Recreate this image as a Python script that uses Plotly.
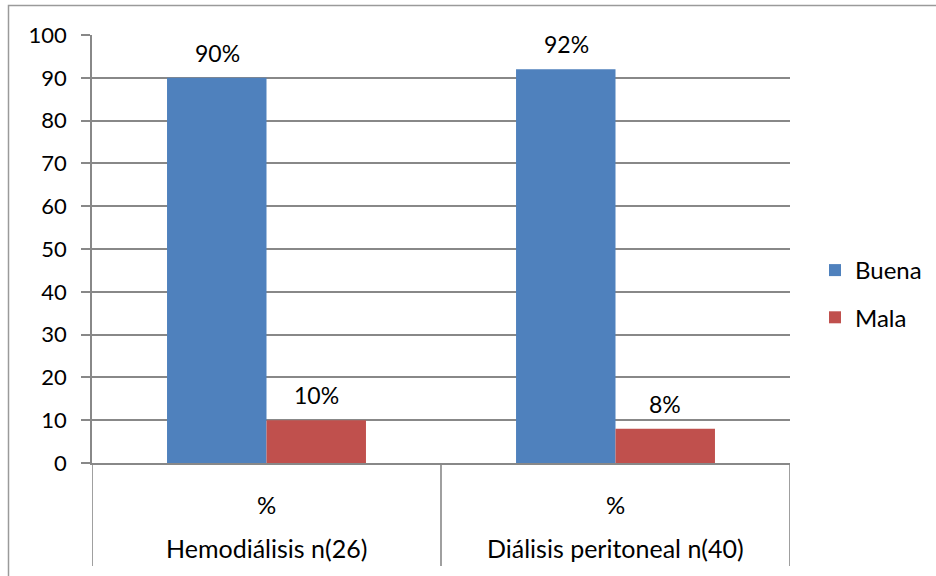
import plotly.graph_objects as go

# Data
groups = ["Hemodiálisis n(26)", "Diálisis peritoneal n(40)"]
inner = ["%", "%"]
series = [("Buena", [90, 92], "#4F81BD"), ("Mala", [10, 8], "#C0504D")]

W, H = 936, 576
ml, mr, mt, mb = 92, 146, 35, 113
FONT = "Lato"
GRID = "#888888"
pw = W - ml - mr
ph = H - mt - mb
bar_px = 99  # width of one bar in pixels, used to centre labels over grouped bars

fig = go.Figure()
for i, (name, vals, color) in enumerate(series):
    fig.add_trace(go.Bar(
        name=name, x=groups, y=vals,
        marker=dict(color=color, line=dict(width=0)),
        legendgroup=name,
    ))
    # value labels above each bar
    off = (i - 0.5) * bar_px
    for g, v in zip(groups, vals):
        fig.add_annotation(
            x=g, y=v, xref="x", yref="y", text=f"{v}%", showarrow=False,
            xshift=off, yshift=25, yanchor="middle",
            font=dict(family=FONT, size=23, color="#000000"),
        )

# group names under the inner "%" labels
for g in groups:
    fig.add_annotation(
        x=g, xref="x", y=-(548 - (H - mb)) / ph, yref="paper", text=g,
        showarrow=False, yanchor="middle",
        font=dict(family=FONT, size=25, color="#000000"),
    )

# category dividers running down through both label rows
for xd in [-0.5, 0.5, 1.5]:
    fig.add_shape(
        type="line", xref="x", yref="paper", x0=xd, x1=xd,
        y0=0, y1=-(566 - (H - mb)) / ph,
        line=dict(color=GRID, width=1.6),
    )

# Outer chart border
fig.add_shape(
    type="rect", xref="paper", yref="paper",
    x0=(8.5 - ml) / pw, x1=(W + 30 - ml) / pw,
    y0=-(H + 30 - (H - mb)) / ph, y1=((H - mb) - 5.5) / ph,
    line=dict(color="#9a9a9a", width=1.5), fillcolor="rgba(0,0,0,0)", layer="below",
)

fig.update_layout(
    width=W, height=H,
    margin=dict(l=ml, r=mr, t=mt, b=mb, autoexpand=False),
    paper_bgcolor="white", plot_bgcolor="white",
    barmode="group", bargap=0.43, bargroupgap=0,
    font=dict(family=FONT, size=23, color="#000000"),
    showlegend=True,
    legend=dict(
        xref="container", yref="container",
        x=815 / W, y=1 - 248 / H, xanchor="left", yanchor="top",
        traceorder="grouped", tracegroupgap=13,
        font=dict(family=FONT, size=24, color="#000000"),
        itemwidth=30, bgcolor="rgba(0,0,0,0)",
    ),
)
fig.update_yaxes(
    range=[0, 100], dtick=10, showgrid=True, gridcolor=GRID, gridwidth=1.6,
    showline=True, linecolor=GRID, linewidth=1.6,
    ticks="outside", ticklen=9, tickcolor=GRID, tickwidth=1.6,
    zeroline=False, automargin=False, ticklabelstandoff=10,
    tickfont=dict(family=FONT, size=22),
)
fig.update_xaxes(
    type="category", range=[-0.5, 1.5], showline=True, linecolor=GRID, linewidth=1.6,
    tickmode="array", tickvals=groups, ticktext=inner,
    ticks="", automargin=False, ticklabelstandoff=20,
    tickfont=dict(family=FONT, size=24),
)

fig.write_html("out.html")
